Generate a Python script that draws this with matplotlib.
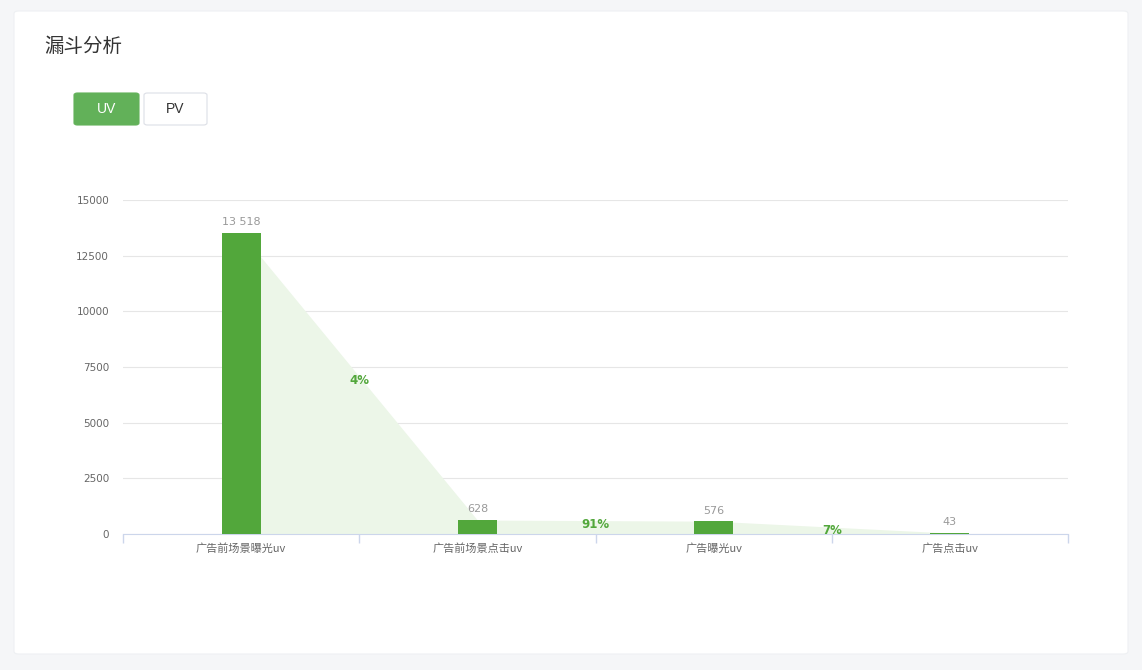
import matplotlib.pyplot as plt
from matplotlib.patches import FancyBboxPatch

plt.rcParams['font.family'] = ['Noto Sans CJK SC', 'DejaVu Sans']

# funnel data
categories = ['广告前场景曝光uv', '广告前场景点击uv', '广告曝光uv', '广告点击uv']
values = [13518, 628, 576, 43]
y_ticks = [0, 2500, 5000, 7500, 10000, 12500, 15000]

bar_color = '#52a73b'
shade_color = '#ecf6e8'
num_font = ['DejaVu Sans']

fig = plt.figure(figsize=(11.42, 6.7), dpi=100)
fig.patch.set_facecolor('#f5f6f8')

# white card (kept behind the axes)
card = FancyBboxPatch((14 / 1142, 16 / 670), 1114 / 1142, 643 / 670,
                      boxstyle='round,pad=0,rounding_size=0.004',
                      transform=fig.transFigure, facecolor='white',
                      edgecolor='#eef0f3', linewidth=0.8, zorder=-5)
fig.patches.append(card)

fig.text(44 / 1142, 1 - 46 / 670, '漏斗分析', fontsize=14, color='#333333',
         va='center', ha='left')

# UV / PV toggle buttons
uv_btn = FancyBboxPatch((74 / 1142, 1 - 125 / 670), 65 / 1142, 32 / 670,
                        boxstyle='round,pad=0,rounding_size=0.003',
                        transform=fig.transFigure, facecolor='#62b159',
                        edgecolor='#62b159', linewidth=0.8, zorder=-4)
pv_btn = FancyBboxPatch((144 / 1142, 1 - 125 / 670), 63 / 1142, 32 / 670,
                        boxstyle='round,pad=0,rounding_size=0.003',
                        transform=fig.transFigure, facecolor='white',
                        edgecolor='#dcdfe6', linewidth=0.8, zorder=-4)
fig.patches.extend([uv_btn, pv_btn])
fig.text(106.5 / 1142, 1 - 109 / 670, 'UV', fontsize=10, color='white',
         ha='center', va='center', family=['Liberation Sans'])
fig.text(175.5 / 1142, 1 - 109 / 670, 'PV', fontsize=10, color='#333333',
         ha='center', va='center', family=['Liberation Sans'])

ax = fig.add_axes([123 / 1142, 1 - 534 / 670, 945 / 1142, 334 / 670])
ax.set_facecolor('none')

xs = list(range(len(categories)))

# conversion shading between bars
for i in range(len(values) - 1):
    ax.fill_between([xs[i], xs[i + 1]], [values[i], values[i + 1]], 0,
                    color=shade_color, linewidth=0, zorder=1)
    pct = int(values[i + 1] / values[i] * 100)
    ax.text(xs[i] + 0.5, (values[i] + values[i + 1]) / 2 - 160, f'{pct}%',
            ha='center', va='center', fontsize=8.5,
            color='#52a73b', fontweight='bold', zorder=4, family=num_font)

ax.bar(xs, values, width=0.165, color=bar_color, zorder=3)

for x, v in zip(xs, values):
    ax.text(x, v + 250, f'{v:,}'.replace(',', ' '), ha='center', va='bottom',
            fontsize=8, color='#999999', zorder=4, family=num_font)

ax.set_xlim(-0.5, 3.5)
ax.set_ylim(0, 15000)
ax.set_yticks(y_ticks)
ax.set_yticklabels([str(t) for t in y_ticks], fontsize=7.5, color='#666666',
                   family=num_font)
ax.tick_params(axis='y', length=0, pad=10)
ax.grid(axis='y', color='#e6e6e6', linewidth=0.8, zorder=0)
ax.set_axisbelow(True)

ax.set_xticks([-0.5, 0.5, 1.5, 2.5, 3.5])
ax.set_xticklabels([])
ax.set_xticks(xs, minor=True)
ax.set_xticklabels(categories, minor=True, fontsize=8, color='#666666')
ax.tick_params(axis='x', which='major', length=6.5, color='#ccd6eb', width=1)
ax.tick_params(axis='x', which='minor', length=0, pad=7)

for side in ['top', 'right', 'left']:
    ax.spines[side].set_visible(False)
ax.spines['bottom'].set_color('#ccd6eb')

fig.savefig('out.png', dpi=100, facecolor=fig.get_facecolor())
